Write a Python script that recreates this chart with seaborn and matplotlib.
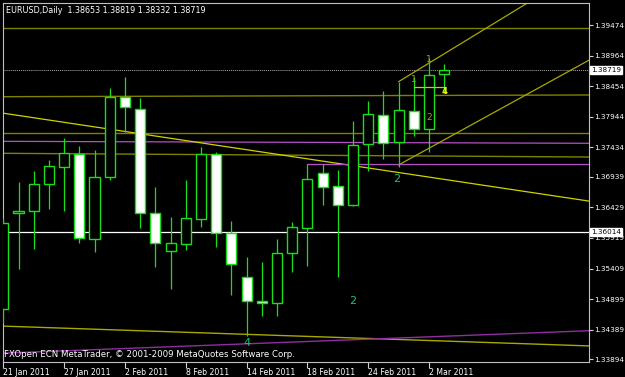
import matplotlib
matplotlib.use('Agg')
import matplotlib.pyplot as plt
import pandas as pd
import seaborn as sns

# Daily EURUSD bars
dates = ['2011-01-21', '2011-01-24', '2011-01-25', '2011-01-26', '2011-01-27', '2011-01-28',
         '2011-01-31', '2011-02-01', '2011-02-02', '2011-02-03', '2011-02-04', '2011-02-07',
         '2011-02-08', '2011-02-09', '2011-02-10', '2011-02-11', '2011-02-14', '2011-02-15',
         '2011-02-16', '2011-02-17', '2011-02-18', '2011-02-21', '2011-02-22', '2011-02-23',
         '2011-02-24', '2011-02-25', '2011-02-28', '2011-03-01', '2011-03-02', '2011-03-03']
opens = [1.34728, 1.36331, 1.36365, 1.36816, 1.37109, 1.37321, 1.35897, 1.36932, 1.38278, 1.38068,
         1.36331, 1.35707, 1.35819, 1.36231, 1.37316, 1.35997, 1.35273, 1.34872, 1.34839, 1.35663,
         1.36091, 1.36999, 1.36787, 1.36470, 1.37483, 1.37973, 1.37527, 1.38039, 1.37744, 1.38653]
highs = [1.36248, 1.36849, 1.37033, 1.37221, 1.37584, 1.37455, 1.37388, 1.38423, 1.38612, 1.38251,
         1.36775, 1.36275, 1.36887, 1.37443, 1.37360, 1.36208, 1.35597, 1.35518, 1.35897, 1.36191,
         1.37149, 1.37149, 1.37054, 1.37872, 1.38206, 1.38373, 1.38529, 1.38612, 1.38929, 1.38819]
lows = [1.34495, 1.35396, 1.35730, 1.36403, 1.36375, 1.35830, 1.35690, 1.36887, 1.37694, 1.36081,
        1.35440, 1.35072, 1.35719, 1.36108, 1.35774, 1.34962, 1.34283, 1.34616, 1.34616, 1.35351,
        1.35451, 1.36465, 1.35263, 1.36450, 1.37038, 1.37233, 1.37109, 1.37622, 1.37360, 1.38332]
closes = [1.36174, 1.36375, 1.36816, 1.37121, 1.37333, 1.35914, 1.36932, 1.38278, 1.38101, 1.36331,
          1.35840, 1.35830, 1.36248, 1.37316, 1.35997, 1.35480, 1.34872, 1.34829, 1.35663, 1.36098,
          1.36899, 1.36765, 1.36470, 1.37467, 1.37989, 1.37500, 1.38051, 1.37734, 1.38641, 1.38719]

# price scale labels on the right
price_ticks = [1.39474, 1.38964, 1.38454, 1.37944, 1.37434, 1.36939, 1.36429, 1.35919,
               1.35409, 1.34899, 1.34389, 1.33894]
bid_price = 1.38719
level_price = 1.36014

# drawn objects: (bar, price) anchor pairs
olive_hlines = [1.39425, 1.37672]
olive_lines = [[(-0.22, 1.38278), (38.6, 1.38307)], [(-0.22, 1.37333), (38.6, 1.37271)]]
purple_line = [(-0.22, 1.37533), (38.6, 1.37500)]
yellow_line = [(-0.22, 1.38011), (38.6, 1.36532)]
bottom_yellow = [(-0.22, 1.34449), (38.6, 1.34116)]
bottom_purple = [(-0.22, 1.33994), (38.6, 1.34371)]
channel_rays = [[(26, 1.38529), (34.45, 1.39838)], [(26, 1.37138), (38.6, 1.38898)]]
purple_ray = (20, 1.37149)
short_seg = [(27, 1.38445), (29, 1.38445)]

wave_labels = [(25.9, 1.36899, '2'), (23, 1.34872, '2'), (16, 1.34161, '4')]
olive_labels = [(28, 1.37928, '2'), (28, 1.38891, '1'), (27, 1.38557, '1')]

sns.set_theme(style='dark')
plt.rcParams['font.family'] = 'DejaVu Sans'

green = '#18e018'
olive = '#808000'
ylo, yhi = 1.33848, 1.39851
xlo, xhi = -0.053, 38.53

fig = plt.figure(figsize=(6.25, 3.77), dpi=100, facecolor='black')
ax = fig.add_axes([2.5 / 625, 15 / 377, 586.5 / 625, 359.5 / 377])
ax.set_facecolor('black')

# horizontal objects
for p in olive_hlines:
    ax.axhline(p, color=olive, lw=1.0, zorder=1)
ax.axhline(bid_price, color='#a8a8a8', lw=0.7, ls=(0, (1, 1)), zorder=1)
ax.axhline(level_price, color='white', lw=0.9, zorder=1)

for ln in olive_lines:
    ax.axline(ln[0], ln[1], color=olive, lw=1.0, zorder=1)
ax.axline(purple_line[0], purple_line[1], color='#b450c8', lw=0.9, zorder=1)
ax.axline(yellow_line[0], yellow_line[1], color='#d2d200', lw=0.9, zorder=1)
ax.axline(bottom_yellow[0], bottom_yellow[1], color='#a8a800', lw=1.0, zorder=1)
ax.axline(bottom_purple[0], bottom_purple[1], color='#8e2ea0', lw=1.0, zorder=1)

for (x0, p0), (x1, p1) in channel_rays:
    slope = (p1 - p0) / (x1 - x0)
    ax.plot([x0, 50], [p0, p0 + slope * (50 - x0)], color='#a8a800', lw=0.9, zorder=1)
ax.plot([purple_ray[0], 50], [purple_ray[1], purple_ray[1]], color='#b450c8', lw=0.9, zorder=1)
ax.plot([short_seg[0][0], short_seg[1][0]], [short_seg[0][1], short_seg[1][1]],
        color='#c8c800', lw=0.9, zorder=5)

# candles
df = pd.DataFrame({'date': pd.to_datetime(dates), 'open': opens, 'high': highs,
                   'low': lows, 'close': closes})
for i, r in df.iterrows():
    ax.vlines(i, r['low'], r['high'], color=green, lw=0.9, zorder=3)
    bottom = min(r['open'], r['close'])
    height = max(abs(r['close'] - r['open']), 0.00008)
    fill = 'white' if r['close'] < r['open'] else 'black'
    ax.bar(i, height, bottom=bottom, width=0.66, color=fill, edgecolor=green,
           linewidth=1.0, zorder=4)

for x, p, t in wave_labels:
    ax.text(x, p, t, color='#1fbf7f', fontsize=8, ha='center', va='center', zorder=6)
for x, p, t in olive_labels:
    ax.text(x, p, t, color='#a0a020', fontsize=6.5, ha='center', va='center', zorder=6)
ax.text(29, 1.38357, '4', color='#ffff00', fontsize=6, fontweight='bold',
        ha='center', va='center', zorder=6)

ax.set_xlim(xlo, xhi)
ax.set_ylim(ylo, yhi)

# x axis: every 4th bar
xt = list(range(0, len(dates), 4))
ax.set_xticks(xt)
ax.set_xticklabels([df['date'][k].strftime('%-d %b %Y') for k in xt])
for lab in ax.get_xticklabels():
    lab.set_ha('left')
ax.tick_params(axis='x', colors='#d0d0d0', labelcolor='white', labelsize=5.6,
               length=4, width=0.8, direction='out', pad=0.5, bottom=True)

ax.yaxis.tick_right()
ax.set_yticks(price_ticks)
ax.set_yticklabels([f'{p:.5f}' for p in price_ticks])
ax.tick_params(axis='y', colors='#d0d0d0', labelcolor='white', labelsize=5.2,
               length=3, width=0.8, direction='out', pad=0.8, right=True, left=False)

ytr = ax.get_yaxis_transform()
for p in [bid_price, level_price]:
    ax.text(1.003, p, f'{p:.5f}', transform=ytr, ha='left', va='center', color='black',
            fontsize=5.2, zorder=10, clip_on=False,
            bbox=dict(boxstyle='square,pad=0.15', fc='white', ec='white'))

for s in ax.spines.values():
    s.set_color('#c0c0c0')
    s.set_linewidth(0.8)
ax.grid(False)

ax.text(0.006, 0.979, 'EURUSD,Daily  1.38653 1.38819 1.38332 1.38719', transform=ax.transAxes,
        color='white', fontsize=5.8, ha='left', va='center', zorder=10)
ax.text(0.003, 0.022, 'FXOpen ECN MetaTrader, \u00a9 2001-2009 MetaQuotes Software Corp.',
        transform=ax.transAxes, color='white', fontsize=6.2, ha='left', va='center', zorder=10)

fig.savefig('out.png', dpi=100, facecolor='black')
